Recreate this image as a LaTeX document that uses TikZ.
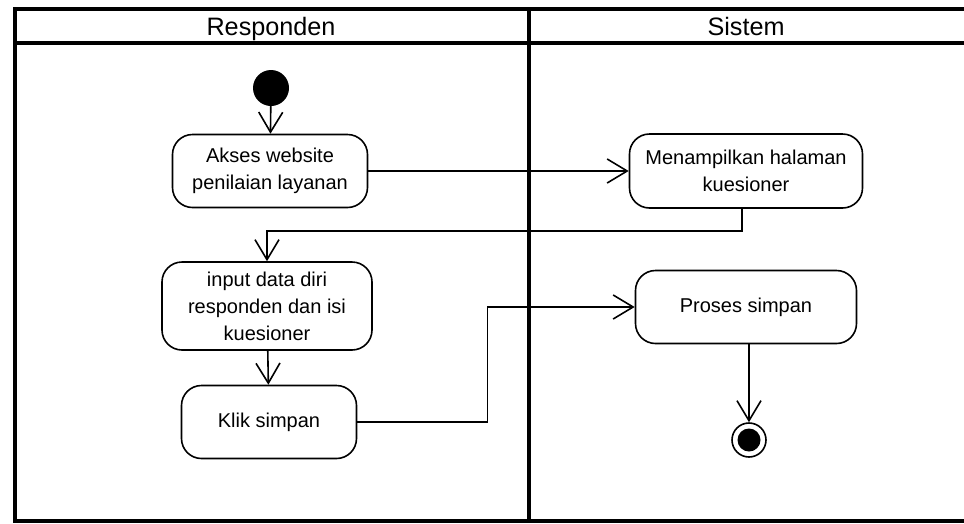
\documentclass[tikz,border=0pt]{standalone}
\usepackage{fontspec}
\setmainfont{Liberation Sans}
\usetikzlibrary{arrows.meta}
\tikzset{
	aktivitas/.style={draw, rounded corners=20pt, line width=1.6pt, align=center, inner sep=2pt, font=\fontsize{20}{27}\selectfont},
	alur/.style={line width=1.6pt, -{Straight Barb[length=20pt,width=24pt]}},
	judul/.style={anchor=base, font=\fontsize{25.2}{28}\selectfont},
}

\begin{document}
\begin{tikzpicture}[x=1pt, y=-1pt]
			%%%%% START %%%%%
			\useasboundingbox (0, 0) rectangle (964, 523);
			
			\draw[line width=4pt] (15, 9) rectangle (968, 521);
			\draw[line width=4pt] (15, 43) -- (968, 43);
			\draw[line width=4pt] (529, 9) -- (529, 521);
			
			\node[judul] (responden) at (271, 35) {Responden};
			\node[judul] (sistem) at (746, 35) {Sistem};
			
			\node[circle, fill=black, minimum size=36pt, inner sep=0pt] (mulai) at (271, 88) {};
			
			\node[aktivitas, minimum width=195pt, minimum height=73pt] (akses) at (270, 171) {Akses website\\penilaian layanan};
			\node[aktivitas, minimum width=233pt, minimum height=74pt] (tampil) at (746, 171) {Menampilkan halaman\\kuesioner};
			\node[aktivitas, minimum width=210pt, minimum height=88pt] (input) at (267, 306) {input data diri\\responden dan isi\\kuesioner};
			\node[aktivitas, minimum width=175pt, minimum height=73pt] (klik) at (269, 422) {Klik simpan};
			\node[aktivitas, minimum width=221pt, minimum height=73pt] (proses) at (746, 307) {Proses simpan};
			
			\node[circle, draw, line width=1.6pt, minimum size=34pt, inner sep=0pt] (akhir) at (749, 440) {};
			\fill (akhir) circle (11.5);
			
			\draw[alur] (mulai) -- (akses);
			\draw[alur] (akses) -- (tampil);
			\draw[alur] ([xshift=-4pt]tampil.south) -- ++(0, 22) -| (input.north);
			\draw[alur] (input) -- (klik);
			\draw[alur] (klik.east) -- ++(130, 0) |- (proses.west);
			\draw[alur] ([xshift=3pt]proses.south) -- (akhir);
			
			%%%%% END %%%%%
\end{tikzpicture}
\end{document}
